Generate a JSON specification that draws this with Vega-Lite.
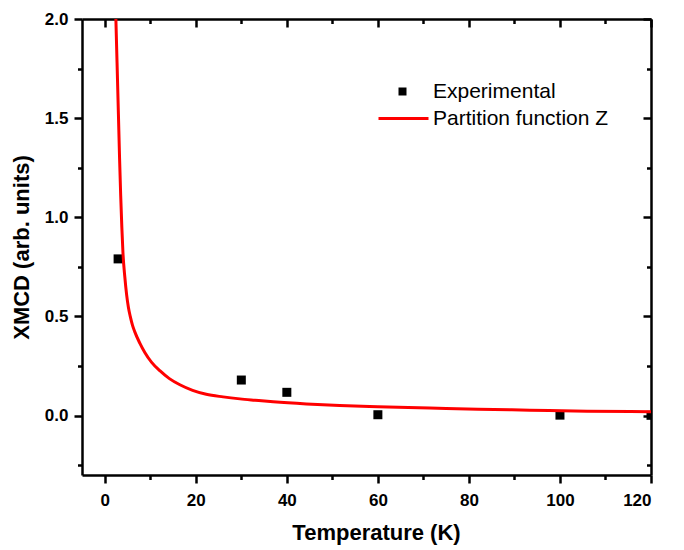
{
  "$schema": "https://vega.github.io/schema/vega-lite/v6.json",
  "autosize": {"type": "none"},
  "width": 569,
  "height": 456,
  "padding": {"left": 82, "top": 19, "right": 33, "bottom": 75},
  "background": "white",
  "config": {
    "view": {"stroke": null},
    "font": "Liberation Sans",
    "axis": {"grid": false, "domainColor": "black", "tickColor": "black", "domainWidth": 2.5, "tickWidth": 2.5, "labelColor": "black", "titleColor": "black", "labelFont": "Liberation Sans", "titleFont": "Liberation Sans", "labelFontWeight": "bold", "titleFontWeight": "bold", "labelFontSize": 17, "titleFontSize": 22}
  },
  "datasets": {
    "exp": [
      {"T": 2.93, "v": 0.79, "kind": "Experimental"},
      {"T": 30, "v": 0.179, "kind": "Experimental"},
      {"T": 40, "v": 0.117, "kind": "Experimental"},
      {"T": 60, "v": 0.004, "kind": "Experimental"},
      {"T": 100, "v": 0.002, "kind": "Experimental"},
      {"T": 120, "v": 0.001, "kind": "Experimental"}
    ],
    "fit": [
      {"T": 2.42, "v": 2.02, "model": "Partition function Z"},
      {"T": 2.7, "v": 1.78, "model": "Partition function Z"},
      {"T": 3.0, "v": 1.52, "model": "Partition function Z"},
      {"T": 3.25, "v": 1.3, "model": "Partition function Z"},
      {"T": 3.5, "v": 1.11, "model": "Partition function Z"},
      {"T": 3.75, "v": 0.95, "model": "Partition function Z"},
      {"T": 4.0, "v": 0.82, "model": "Partition function Z"},
      {"T": 4.4, "v": 0.7, "model": "Partition function Z"},
      {"T": 4.8, "v": 0.61, "model": "Partition function Z"},
      {"T": 5.2, "v": 0.545, "model": "Partition function Z"},
      {"T": 5.6, "v": 0.5, "model": "Partition function Z"},
      {"T": 6.1, "v": 0.455, "model": "Partition function Z"},
      {"T": 6.6, "v": 0.422, "model": "Partition function Z"},
      {"T": 7.7, "v": 0.365, "model": "Partition function Z"},
      {"T": 8.8, "v": 0.318, "model": "Partition function Z"},
      {"T": 10.3, "v": 0.268, "model": "Partition function Z"},
      {"T": 12.1, "v": 0.226, "model": "Partition function Z"},
      {"T": 14.2, "v": 0.186, "model": "Partition function Z"},
      {"T": 16.5, "v": 0.155, "model": "Partition function Z"},
      {"T": 19.3, "v": 0.127, "model": "Partition function Z"},
      {"T": 22.3, "v": 0.107, "model": "Partition function Z"},
      {"T": 26, "v": 0.094, "model": "Partition function Z"},
      {"T": 29.7, "v": 0.084, "model": "Partition function Z"},
      {"T": 33, "v": 0.077, "model": "Partition function Z"},
      {"T": 37, "v": 0.069, "model": "Partition function Z"},
      {"T": 44.3, "v": 0.058, "model": "Partition function Z"},
      {"T": 51.6, "v": 0.05, "model": "Partition function Z"},
      {"T": 60, "v": 0.044, "model": "Partition function Z"},
      {"T": 71.4, "v": 0.038, "model": "Partition function Z"},
      {"T": 82, "v": 0.032, "model": "Partition function Z"},
      {"T": 93.4, "v": 0.027, "model": "Partition function Z"},
      {"T": 106, "v": 0.022, "model": "Partition function Z"},
      {"T": 120, "v": 0.019, "model": "Partition function Z"}
    ]
  },
  "resolve": {"axis": {"x": "independent", "y": "independent"}},
  "layer": [
    {
      "data": {"name": "exp"},
      "mark": {"type": "point", "filled": true, "color": "black", "opacity": 1, "size": 81, "clip": true},
      "encoding": {
        "x": {"field": "T", "type": "quantitative", "scale": {"domain": [-5, 120], "nice": false, "zero": false},
          "axis": {"orient": "bottom", "values": [0, 20, 40, 60, 80, 100, 120], "tickSize": 8, "labelPadding": 9, "title": "Temperature (K)", "titlePadding": 14, "titleX": 294}},
        "y": {"field": "v", "type": "quantitative", "scale": {"domain": [-0.3, 2.0], "nice": false, "zero": false},
          "axis": {"orient": "left", "values": [0, 0.5, 1.0, 1.5, 2.0], "format": ".1f", "tickSize": 8, "labelPadding": 6, "title": "XMCD (arb. units)", "titlePadding": 11}},
        "shape": {"field": "kind", "type": "nominal", "scale": {"range": ["square"]},
          "legend": {"title": null, "orient": "none", "legendX": 310, "legendY": 62, "padding": 0, "symbolSize": 64, "symbolFillColor": "black", "symbolStrokeWidth": 0, "labelFont": "Liberation Sans", "labelFontSize": 21, "labelColor": "black", "labelOffset": 20, "labelLimit": 0}}
      }
    },
    {
      "data": {"name": "fit"},
      "mark": {"type": "line", "color": "red", "strokeWidth": 3, "interpolate": "monotone", "clip": true},
      "encoding": {
        "x": {"field": "T", "type": "quantitative", "scale": {"domain": [-5, 120], "nice": false, "zero": false},
          "axis": {"orient": "top", "values": [0, 20, 40, 60, 80, 100, 120], "tickSize": -8, "labels": false, "title": null}},
        "y": {"field": "v", "type": "quantitative", "scale": {"domain": [-0.3, 2.0], "nice": false, "zero": false},
          "axis": {"orient": "right", "values": [0, 0.5, 1.0, 1.5, 2.0], "tickSize": -8, "labels": false, "title": null}},
        "color": {"field": "model", "type": "nominal", "scale": {"range": ["red"]},
          "legend": {"title": null, "orient": "none", "legendX": 295, "legendY": 73, "padding": 0, "symbolType": "stroke", "symbolSize": 2500, "symbolStrokeWidth": 3, "labelFont": "Liberation Sans", "labelFontSize": 21, "labelColor": "black", "labelOffset": 3, "labelLimit": 0}}
      }
    },
    {
      "data": {"name": "exp"},
      "mark": {"type": "point", "opacity": 0},
      "encoding": {
        "x": {"field": "T", "type": "quantitative", "scale": {"domain": [-5, 120], "nice": false, "zero": false},
          "axis": {"orient": "bottom", "values": [10, 30, 50, 70, 90, 110], "tickSize": 4.5, "labels": false, "domain": false, "title": null}},
        "y": {"field": "v", "type": "quantitative", "scale": {"domain": [-0.3, 2.0], "nice": false, "zero": false},
          "axis": {"orient": "left", "values": [-0.25, 0.25, 0.75, 1.25, 1.75], "tickSize": 4.5, "labels": false, "domain": false, "title": null}}
      }
    },
    {
      "data": {"name": "exp"},
      "mark": {"type": "point", "opacity": 0},
      "encoding": {
        "x": {"field": "T", "type": "quantitative", "scale": {"domain": [-5, 120], "nice": false, "zero": false},
          "axis": {"orient": "top", "values": [10, 30, 50, 70, 90, 110], "tickSize": -4.5, "labels": false, "domain": false, "title": null}},
        "y": {"field": "v", "type": "quantitative", "scale": {"domain": [-0.3, 2.0], "nice": false, "zero": false},
          "axis": {"orient": "right", "values": [-0.25, 0.25, 0.75, 1.25, 1.75], "tickSize": -4.5, "labels": false, "domain": false, "title": null}}
      }
    }
  ]
}
